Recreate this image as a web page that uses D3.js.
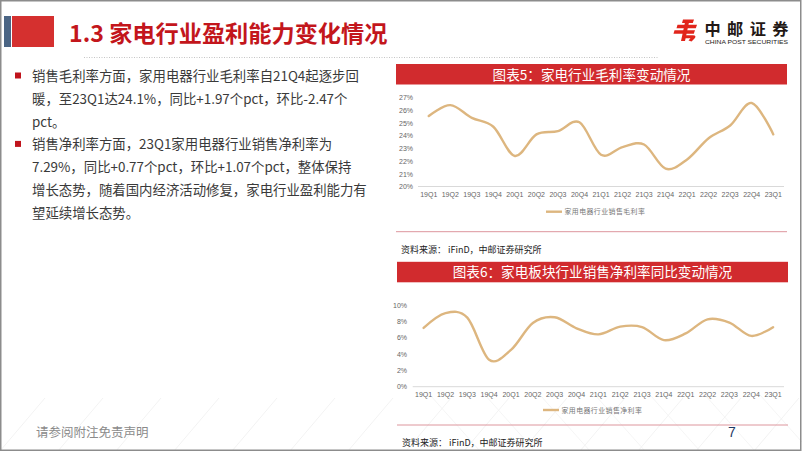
<!DOCTYPE html>
<html>
<head>
<meta charset="utf-8">
<script src="https://cdn.jsdelivr.net/npm/d3@7/dist/d3.min.js"></script>
<style>
  html, body { margin: 0; padding: 0; background: #fff; }
  svg { display: block; font-family: "Noto Sans CJK SC", "Noto Sans", sans-serif; }
</style>
</head>
<body>
<svg id="page" width="802" height="451"></svg>
<script>
// ---------- data ----------
const categories = ["19Q1","19Q2","19Q3","19Q4","20Q1","20Q2","20Q3","20Q4","21Q1","21Q2","21Q3","21Q4","22Q1","22Q2","22Q3","22Q4","23Q1"];
const grossMargin = [25.55, 26.4, 25.4, 24.7, 22.4, 24.1, 24.35, 25.05, 22.5, 23.1, 23.3, 21.4, 22.13, 23.8, 24.8, 26.57, 24.1];
const netMargin = [7.2, 9.0, 8.45, 3.3, 4.5, 7.8, 8.5, 7.15, 6.4, 7.35, 7.3, 5.7, 6.52, 8.25, 7.85, 6.22, 7.29];
const grossTicks = [20, 21, 22, 23, 24, 25, 26, 27];
const netTicks = [0, 2, 4, 6, 8, 10];
const pageTitle = "1.3 家电行业盈利能力变化情况";
const chart1Title = "图表5：家电行业毛利率变动情况";
const chart2Title = "图表6：家电板块行业销售净利率同比变动情况";
const legend1 = "家用电器行业销售毛利率";
const legend2 = "家用电器行业销售净利率";
const sourceText = "资料来源：  iFinD，中邮证券研究所";
const bodyLines = [
  "销售毛利率方面，家用电器行业毛利率自21Q4起逐步回",
  "暖，至23Q1达24.1%，同比+1.97个pct，环比-2.47个",
  "pct。",
  "销售净利率方面，23Q1家用电器行业销售净利率为",
  "7.29%，同比+0.77个pct，环比+1.07个pct，整体保持",
  "增长态势，随着国内经济活动修复，家电行业盈利能力有",
  "望延续增长态势。"
];
const bulletLineIdx = [0, 3];

// ---------- page ----------
const svg = d3.select("#page");
const LINE_COLOR = "#DDB67F";
const RED = "#D12B2E";

// faint diagonal decoration at bottom
const deco = svg.append("g").attr("stroke", "#efefef").attr("stroke-width", 0.8);
for (let i = -2; i < 16; i++) {
  const x0 = i * 58;
  deco.append("line").attr("x1", x0).attr("y1", 451).attr("x2", x0 + 45).attr("y2", 398);
}
const deco2 = svg.append("g").attr("stroke", "#f2f2f2").attr("stroke-width", 0.8);
for (let i = 0; i < 8; i++) {
  const x0 = 430 + i * 55;
  deco2.append("line").attr("x1", x0).attr("y1", 395).attr("x2", x0 + 50).attr("y2", 451);
}

// header
svg.append("rect").attr("x", 4).attr("y", 16).attr("width", 7).attr("height", 31).attr("fill", "#4B6584");
svg.append("rect").attr("x", 12).attr("y", 16).attr("width", 42).attr("height", 31).attr("fill", "#D5302F");
svg.append("text").attr("x", 69).attr("y", 41.5).attr("font-size", 23.2).attr("font-weight", "bold")
  .attr("fill", "#C3161C").text(pageTitle);
svg.append("line").attr("x1", 84).attr("x2", 658).attr("y1", 57.5).attr("y2", 57.5)
  .attr("stroke", "#b5b5b5").attr("stroke-width", 0.8).attr("stroke-dasharray", "1,1.5");

// logo
const logo = svg.append("g").attr("fill", "#E1251B");
logo.append("path").attr("d", "M683,19.5 L694,19.5 L692.8,23 L682,23 Z");
logo.append("path").attr("d", "M677.5,24.8 L697,24.8 L695.8,28.3 L676.5,28.3 Z");
logo.append("path").attr("d", "M674.5,30.2 L695,30.2 L693.8,33.7 L673.5,33.7 Z");
logo.append("path").attr("d", "M685.5,20 L689.5,20 L685,41 L681,41 Z");
logo.append("path").attr("d", "M683.5,35.2 L693,35.2 Q697,35.6 694.5,38.6 L691.5,41.5 L688.5,40.5 L690.5,38.3 L683,38.3 Z");
svg.append("text").attr("x", 704.5).attr("y", 35).attr("font-size", 16.2).attr("font-weight", "bold")
  .attr("fill", "#231815").attr("letter-spacing", 6.4).text("中邮证券");
svg.append("text").attr("x", 705).attr("y", 43.6).attr("font-size", 5.8)
  .attr("font-family", "Liberation Sans, Arial, sans-serif")
  .attr("textLength", 83).attr("lengthAdjust", "spacingAndGlyphs")
  .attr("fill", "#231815").text("CHINA POST SECURITIES");

// body text
const body = svg.append("g");
bodyLines.forEach((t, i) => {
  body.append("text").attr("x", 32).attr("y", 81 + i * 22.8).attr("font-size", 13.4)
    .attr("fill", "#3a3a3a").text(t);
});
bulletLineIdx.forEach(i => {
  body.append("rect").attr("x", 15).attr("y", 72.5 + i * 22.8).attr("width", 6).attr("height", 6).attr("fill", "#C0141C");
});

// ---------- charts ----------
function drawChart(cfg) {
  const g = svg.append("g");
  // title bar
  g.append("rect").attr("x", cfg.barX0).attr("y", cfg.barY).attr("width", cfg.barX1 - cfg.barX0)
    .attr("height", 20.5).attr("fill", RED);
  g.append("text").attr("x", (cfg.barX0 + cfg.barX1) / 2).attr("y", cfg.barY + 15.6)
    .attr("text-anchor", "middle").attr("font-size", 13.6).attr("fill", "#fff").text(cfg.title);

  const x = d3.scaleBand().domain(categories).range([cfg.x0, cfg.x1]);
  const y = d3.scaleLinear().domain(cfg.domain).range([cfg.yBottom, cfg.yTop]);

  // baseline
  g.append("line").attr("x1", cfg.x0).attr("x2", cfg.x1).attr("y1", cfg.yBottom).attr("y2", cfg.yBottom)
    .attr("stroke", "#D9D9D9").attr("stroke-width", 1);

  const yAxis = d3.axisLeft(y).tickValues(cfg.ticks).tickSize(0).tickPadding(0)
    .tickFormat(d => d + "%");
  const ya = g.append("g").attr("transform", `translate(${cfg.yLabelX},0)`).call(yAxis);
  ya.select(".domain").remove();
  ya.selectAll("text").attr("font-size", 7).attr("fill", "#666")
    .attr("font-family", "Liberation Sans, Arial, sans-serif");

  const xAxis = d3.axisBottom(x).tickSize(0).tickPadding(0);
  const xa = g.append("g").attr("transform", `translate(0,${cfg.xLabelY})`).call(xAxis);
  xa.select(".domain").remove();
  xa.selectAll("text").attr("font-size", 7).attr("fill", "#666")
    .attr("font-family", "Liberation Sans, Arial, sans-serif");

  const line = d3.line()
    .x((d, i) => x(categories[i]) + x.bandwidth() / 2)
    .y(d => y(d))
    .curve(d3.curveCardinal.tension(0));
  g.append("path").datum(cfg.values).attr("d", line).attr("fill", "none")
    .attr("stroke", LINE_COLOR).attr("stroke-width", 2.4).attr("stroke-linecap", "round");

  // legend
  g.append("line").attr("x1", cfg.legX).attr("x2", cfg.legX + 16).attr("y1", cfg.legY).attr("y2", cfg.legY)
    .attr("stroke", LINE_COLOR).attr("stroke-width", 2.4);
  g.append("text").attr("x", cfg.legX + 18.5).attr("y", cfg.legY + 2.6).attr("font-size", 6.9)
    .attr("letter-spacing", 0.45).attr("fill", "#777").text(cfg.legend);

  // separator + source
  g.append("line").attr("x1", cfg.barX0).attr("x2", cfg.barX1).attr("y1", cfg.sepY).attr("y2", cfg.sepY)
    .attr("stroke", "#D98A92").attr("stroke-width", 0.9);
  g.append("text").attr("x", cfg.barX0 + 5).attr("y", cfg.sepY + 21).attr("font-size", 9)
    .attr("fill", "#222").text(sourceText);
}

drawChart({
  title: chart1Title, legend: legend1, values: grossMargin, ticks: grossTicks, domain: [20, 27],
  barX0: 396, barX1: 787, barY: 64,
  x0: 418, x1: 784, yTop: 97.5, yBottom: 186.5, yLabelX: 413, xLabelY: 192.5,
  legX: 546, legY: 211.7, sepY: 231.7
});
drawChart({
  title: chart2Title, legend: legend2, values: netMargin, ticks: netTicks, domain: [0, 10],
  barX0: 397, barX1: 788, barY: 261.8,
  x0: 412.7, x1: 784, yTop: 305, yBottom: 386.7, yLabelX: 407, xLabelY: 392,
  legX: 543, legY: 410, sepY: 425
});

// footer
svg.append("text").attr("x", 36).attr("y", 436.5).attr("font-size", 12.5).attr("fill", "#8a8a8a").text("请参阅附注免责声明");
svg.append("text").attr("x", 728).attr("y", 437).attr("font-size", 14).attr("fill", "#1F3864")
  .attr("font-family", "Liberation Sans, Arial, sans-serif").text("7");

// page frame
svg.append("rect").attr("x", 0.75).attr("y", 0.75).attr("width", 800).attr("height", 449.5)
  .attr("fill", "none").attr("stroke", "#8c8c8c").attr("stroke-width", 1.5);
</script>
</body>
</html>
